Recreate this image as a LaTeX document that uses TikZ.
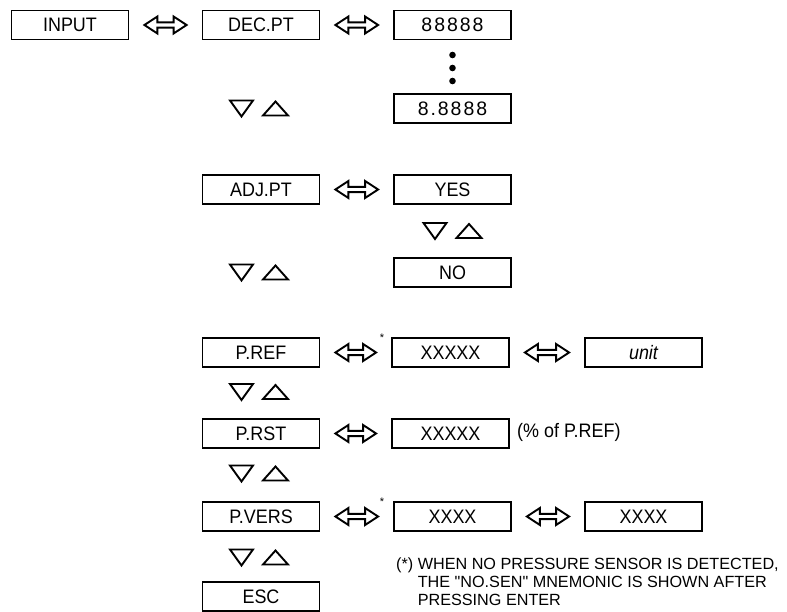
\documentclass[tikz,border=0pt]{standalone}
\usepackage{fontspec}
\setmainfont{Liberation Sans}
\newfontfamily\boxfont{Liberation Sans}[FakeStretch=0.92]
\newfontfamily\digitfont{Liberation Sans}[LetterSpace=10]
\usetikzlibrary{calc}
\tikzset{
  lbox/.style={draw, line width=1.8pt, minimum width=117pt, minimum height=29pt,
    inner sep=0pt, font=\boxfont\fontsize{19.5}{20}\selectfont},
  dbox/.style={lbox, font=\digitfont\fontsize{19.5}{20}\selectfont},
  dblarrow/.style={draw, line width=1.9pt, line join=miter,
    to path={let \p1=(\tikztostart.east), \p2=(\tikztotarget.west) in
      (\x1+15pt,\y1) -- (\x1+28pt,\y1+8.5pt) -- (\x1+28pt,\y1+2.6pt) -- (\x2-28pt,\y1+2.6pt)
      -- (\x2-28pt,\y1+8.5pt) -- (\x2-15pt,\y1) -- (\x2-28pt,\y1-8.5pt) -- (\x2-28pt,\y1-2.6pt)
      -- (\x1+28pt,\y1-2.6pt) -- (\x1+28pt,\y1-8.5pt) -- cycle}},
  ast/.style={inner sep=0pt, font=\fontsize{11}{11}\selectfont},
  updown/.pic={
    \draw[line width=1.9pt, line join=miter] (-29,-8) -- (-6,-8) -- (-17.5,8) -- cycle;
    \draw[line width=1.9pt, line join=miter] (4,7) -- (29,7) -- (16.5,-7) -- cycle;
  }
}
\begin{document}
\begin{tikzpicture}[x=1pt, y=-1pt]
\fill[white] (0,0) rectangle (787,612);
\useasboundingbox (0,0) rectangle (787,612);

% row 1
\node[lbox] (input) at (70,25) {INPUT};
\node[lbox] (decpt) at (261,25) {DEC.PT};
\node[dbox] (d1) at (452.5,25) {88888};
\draw[dblarrow] (input) to (decpt);
\draw[dblarrow] (decpt) to (d1);
\fill (452.5,55) circle (3.3pt);
\fill (452.5,68) circle (3.3pt);
\fill (452.5,81) circle (3.3pt);
\pic at (259,108.5) {updown};
\node[dbox] (d2) at (452.5,108.5) {8.8888};

% ADJ.PT
\node[lbox] (adjpt) at (261,189.5) {ADJ.PT};
\node[lbox] (yes) at (452.5,189.5) {YES};
\draw[dblarrow] (adjpt) to (yes);
\pic at (452.5,231) {updown};
\pic at (259,272.5) {updown};
\node[lbox] (no) at (452.5,272.5) {NO};

% P.REF
\node[lbox] (pref) at (261,352.5) {P.REF};
\node[lbox] (x1) at (450.5,352.5) {XXXXX};
\node[lbox] (unit) at (643.5,352.5) {\itshape unit};
\draw[dblarrow] (pref) to (x1);
\draw[dblarrow] (x1) to (unit);
\node[ast] (a1) at (382,338) {*};
\pic at (259,392) {updown};

% P.RST
\node[lbox] (prst) at (261,433.5) {P.RST};
\node[lbox] (x2) at (450.5,433.5) {XXXXX};
\draw[dblarrow] (prst) to (x2);
\node[anchor=west, inner sep=0pt, font=\boxfont\fontsize{19.5}{20}\selectfont] (pct) at (517,432.5) {(\% of P.REF)};
\pic at (259,473.5) {updown};

% P.VERS
\node[lbox] (pvers) at (261,516.5) {P.VERS};
\node[lbox] (x3) at (452.5,516.5) {XXXX};
\node[lbox] (x4) at (643.5,516.5) {XXXX};
\draw[dblarrow] (pvers) to (x3);
\draw[dblarrow] (x3) to (x4);
\node[ast] (a2) at (382,502) {*};
\pic at (259,557.5) {updown};

% ESC
\node[lbox] (esc) at (261,596.5) {ESC};

% footnote
\node[anchor=north west, inner sep=0pt, align=left, font=\fontsize{16.2}{18}\selectfont] (note) at (396,558)
  {(*) WHEN NO PRESSURE SENSOR IS DETECTED,\\
   \phantom{(*) }THE \textquotedbl NO.SEN\textquotedbl{} MNEMONIC IS SHOWN AFTER\\
   \phantom{(*) }PRESSING ENTER};
\end{tikzpicture}
\end{document}
